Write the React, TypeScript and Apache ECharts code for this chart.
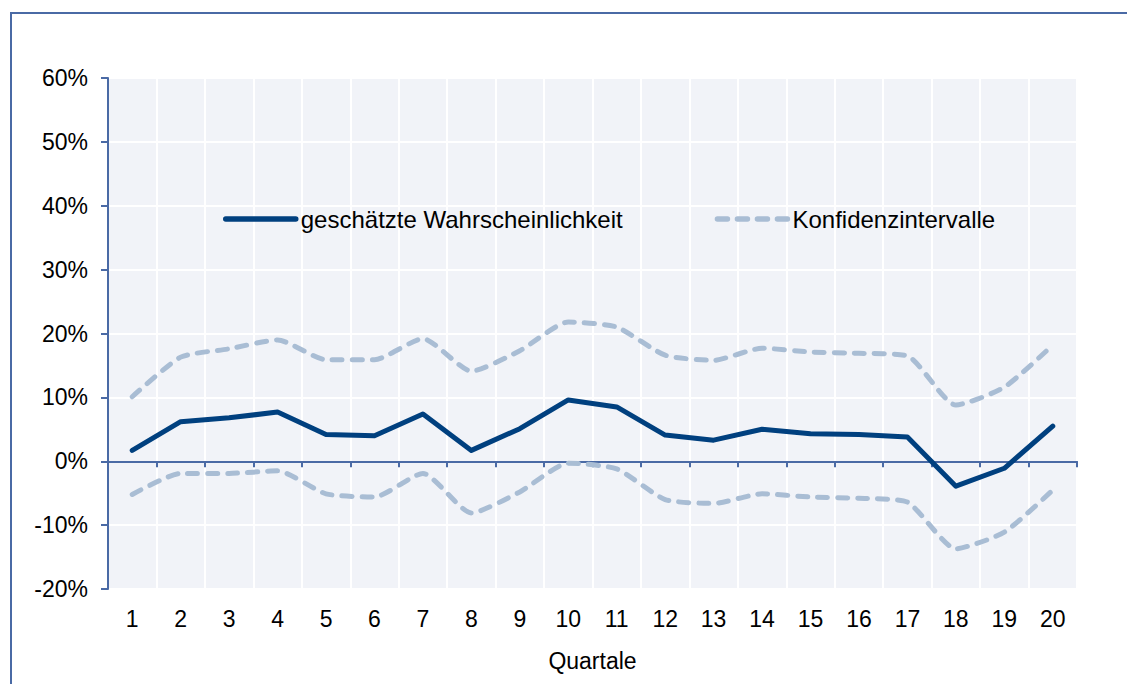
import React, { useEffect, useRef } from "react";
import * as echarts from "echarts";

const quarters = ["1","2","3","4","5","6","7","8","9","10","11","12","13","14","15","16","17","18","19","20"];
const estimate = [1.7, 6.2, 6.8, 7.7, 4.2, 4.0, 7.4, 1.7, 5.1, 9.6, 8.5, 4.1, 3.3, 5.0, 4.3, 4.2, 3.8, -3.9, -1.1, 5.5];
const upperCI = [10.1, 16.3, 17.6, 19.0, 15.9, 15.9, 19.2, 14.1, 17.3, 21.8, 21.0, 16.6, 15.8, 17.7, 17.1, 16.9, 16.5, 8.8, 11.6, 18.2];
const lowerCI = [-5.2, -1.9, -1.9, -1.5, -5.1, -5.6, -1.9, -8.1, -4.8, -0.3, -1.2, -6.0, -6.6, -5.1, -5.6, -5.8, -6.4, -13.7, -11.1, -4.5];
const yTicks = { min: -20, max: 60, interval: 10 };

const AXIS = "#4a6aa5";
const MAIN = "#00407f";
const CI = "#a9bdd4";
const FONT = "'Liberation Sans', Arial, sans-serif";

export default function App() {
  const ref = useRef<HTMLDivElement>(null);
  useEffect(() => {
    if (!ref.current) return;
    const chart = echarts.init(ref.current, null, { renderer: "svg" });
    const ciStyle = { color: CI, width: 5, type: [10, 10] as any, cap: "round" as any };
    chart.setOption({
      animation: false,
      textStyle: { fontFamily: FONT },
      graphic: [
        {
          type: "rect",
          shape: { x: 11, y: 13, width: 1200, height: 800 },
          style: { fill: "none", stroke: AXIS, lineWidth: 2 },
          silent: true,
        },
      ],
      grid: {
        left: 108, top: 78, right: 50, bottom: 95,
        show: true, backgroundColor: "#f1f3f8", borderWidth: 0,
        containLabel: false,
      },
      legend: {
        left: 223, top: 207, padding: 0,
        itemWidth: 70, itemHeight: 14, itemGap: 92,
        itemStyle: { opacity: 0, borderWidth: 0 },
        lineStyle: { width: 5.5 },
        textStyle: { fontSize: 24, color: "#000", fontFamily: FONT },
        data: ["geschätzte Wahrscheinlichkeit", "Konfidenzintervalle"],
      },
      xAxis: [
        {
          type: "category",
          data: quarters,
          position: "bottom",
          axisLine: { show: false, onZero: false },
          axisTick: { show: false },
          axisLabel: { fontSize: 23, color: "#000", margin: 18, fontFamily: FONT },
          splitLine: { show: true, lineStyle: { color: "#ffffff", width: 2 } },
          name: "Quartale",
          nameLocation: "middle",
          nameGap: 60,
          nameTextStyle: { fontSize: 23, color: "#000", fontFamily: FONT },
        },
        {
          type: "category",
          data: quarters,
          position: "bottom",
          axisLine: { show: true, onZero: true, lineStyle: { color: AXIS, width: 2 } },
          axisTick: { show: true, length: 6, lineStyle: { color: AXIS, width: 2 } },
          axisLabel: { show: false },
          splitLine: { show: false },
        },
      ],
      yAxis: {
        type: "value",
        min: yTicks.min, max: yTicks.max, interval: yTicks.interval,
        axisLine: { show: true, lineStyle: { color: AXIS, width: 2 } },
        axisTick: { show: true, length: 7, lineStyle: { color: AXIS, width: 2 } },
        axisLabel: { formatter: "{value}%", fontSize: 23, color: "#000", margin: 20, fontFamily: FONT },
        splitLine: { show: true, lineStyle: { color: "#ffffff", width: 2 } },
      },
      series: [
        {
          name: "Konfidenzintervalle",
          type: "line",
          data: upperCI,
          symbol: "none",
          smooth: 0.2,
          lineStyle: ciStyle,
          itemStyle: { color: CI },
          z: 2,
        },
        {
          name: "Konfidenzintervalle",
          type: "line",
          data: lowerCI,
          symbol: "none",
          smooth: 0.2,
          lineStyle: ciStyle,
          itemStyle: { color: CI },
          z: 2,
        },
        {
          name: "geschätzte Wahrscheinlichkeit",
          type: "line",
          data: estimate,
          symbol: "none",
          lineStyle: { color: MAIN, width: 5, cap: "round", join: "round" },
          itemStyle: { color: MAIN },
          z: 3,
        },
      ],
    });
    return () => chart.dispose();
  }, []);
  return (
    <div
      ref={ref}
      style={{ position: "absolute", left: 0, top: 0, width: 1127, height: 684, background: "#fff" }}
    />
  );
}
